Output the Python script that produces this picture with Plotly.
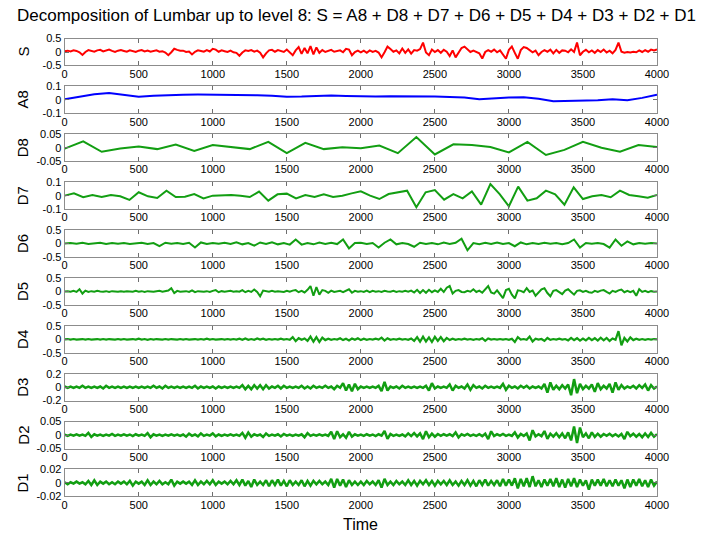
import numpy as np
import plotly.graph_objects as go

W, H = 715, 540
T_END = 4000
X_TICKS = [0, 500, 1000, 1500, 2000, 2500, 3000, 3500, 4000]

# Signal S, sampled every 20 time steps, in units of 0.01
s_cent = [
    3, 5, 2, 6, 4, -1, -11, 0, 7, 5, 1, 6, 8, 2, 5, 9, 4, 0, 5, 7,
    4, 1, 6, 3, 0, 5, 7, 2, 5, 1, 4, 6, 1, 3, -2, -12, -1, 12, 8, 5,
    5, 0, 2, -9, 1, 6, 4, 1, 7, 2, 12, 9, 1, 6, 3, 0, 5, -1, -3, -14,
    -2, 6, 4, 7, 1, 5, -3, -20, -5, 6, 8, 1, 7, 4, 0, 9, -1, -12, 6, 18,
    -7, 15, -5, 22, -9, 17, -3, 7, 0, 5, 8, 1, 4, 6, -1, 12, 9, -12, 0, 5,
    -1, 5, -3, 6, 0, 4, -2, -20, -1, 20, 11, 1, 6, -5, 13, -3, 10, -6, 7, 5,
    11, 35, -2, -12, 9, 0, 7, -3, 8, 1, -15, 6, -20, -1, 15, 20, 8, 0, 5, -1,
    -5, -24, 0, 7, 1, 9, -1, 6, -9, -25, 8, 20, -3, -25, 7, 18, 15, 6, -1, 5,
    -12, 0, 7, 1, 9, -5, 8, -3, 6, 5, -1, 10, 0, 35, -12, 1, 8, -1, 6, -3,
    7, 0, 9, -2, 5, -5, 8, 35, 1, -3, 0, -2, 1, -1, 6, 0, 7, 1, 9, 6,
    10,
]

# Approximation A8, every 100 time steps, in units of 0.001
a8_milli = [
    5, 22, 42, 52, 38, 24, 30, 37, 39, 40,
    40, 40, 38, 35, 30, 24, 25, 30, 33, 29,
    26, 25, 27, 28, 27, 25, 22, 18, 5, 12,
    18, 20, 8, -10, -8, -3, -2, 5, -2, 15,
    38,
]

# Detail D8, every 125 time steps, in units of 0.001
d8_milli = [
    -3, 24, -15, -3, 5, -5, 12, -12, 10, 2, -5, 22, -20, 18, -5, 2,
    -2, 8, -20, 40, -25, 13, 10, 3, -17, 22, -27, -8, 22, 0, -15, 10,
    3,
]

# Detail D7, every 62.5 time steps, in units of 0.001
d7_milli = [
    0, 17, -12, 5, -10, 5, -5, -32, 25, -5, -17, 37, -10, -8, 12, -20,
    0, 5, 5, 0, -10, 30, -37, 10, 15, -20, 5, -10, 10, -10, 0, 17,
    32, 0, -25, 12, 25, 37, -86, 25, 42, -30, 12, -20, 32, -67, 86, 12,
    -79, 67, -37, -20, 37, 10, -67, 62, -25, -5, 5, -12, 37, 5, -5, -15,
    5,
]

# Detail D6, every 40 time steps, in units of 0.01
d6_cent = [
    0, 2, -1, 3, -2, 1, 3, -2, 2, -1,
    2, -2, 1, 3, -2, 2, -10, 3, -1, 2,
    -2, 3, -15, 4, -2, 2, -1, 3, -2, 5,
    -3, 2, -8, 4, -2, 5, -3, 2, -4, 15,
    -4, 2, -3, 4, -2, 3, -2, 15, -18, 2,
    3, -2, 2, -15, 3, 15, -3, 2, -2, -12,
    3, -2, 2, -3, 4, -2, 3, 18, -25, 2,
    -3, 3, -2, 4, -2, 2, -10, 4, -3, 2,
    -2, 3, -1, 2, -3, 2, 15, -15, 2, -1,
    2, -2, -15, 15, -8, 8, -3, 2, -1, 2,
    0,
]

# Detail D5, every 20 time steps, in units of 0.01
d5_cent = [
    0, 1, -1, 2, -2, 8, -8, 3, -2, 1, -1, 2, 0, -1, 1, -2, 1, 0, -1, 1,
    -1, 1, 0, -1, 2, -1, 1, -2, 1, 0, -1, 1, 2, -1, 0, 3, 12, -6, 2, -1,
    0, 1, -2, 4, -3, 1, 0, -1, 1, -2, 2, 5, -3, 1, -1, 0, 2, -1, 1, -1,
    5, -3, 2, -2, 7, -2, -18, 3, 1, -1, 2, -1, 1, 0, -2, 2, -1, 3, 5, -3,
    2, -4, 6, 20, -16, 16, -12, 5, 2, -5, 3, -2, 1, 2, -3, 4, 8, -5, 2, -1,
    1, -2, 3, -3, 2, -1, 1, -2, 2, 0, -1, 2, -2, 1, -1, 2, -1, 3, -4, 6,
    -6, 5, -5, 6, -3, 4, -2, 10, -2, 14, 20, -8, 2, 5, -2, -3, 2, -1, 8, -2,
    3, -5, 8, 20, -4, -8, 4, -10, -25, 5, 10, -12, -26, 4, 2, -3, 12, -2, 3, -16,
    -4, 8, 12, -6, -18, 2, 5, -3, -10, 3, 8, -2, -12, 2, 4, -2, 2, -3, -5, 2,
    -2, 3, 5, -2, -8, 2, -2, 4, 7, -3, 2, -3, 2, -16, 8, -2, 2, -3, 1, -1,
    0,
]

# Detail D4, every 20 time steps, in units of 0.01
d4_cent = [
    0, 1, -1, 1, -1, 0, 1, -1, 1, -1, 0, 1, -1, 1, -1, 1, 0, -1, 1, -1,
    1, -1, 0, 1, -1, 2, -1, 1, -2, 1, -1, 1, 0, -1, 1, -1, 1, 0, -1, 1,
    -1, 1, -1, 0, 1, -1, 1, -1, 2, -1, 1, -1, 0, 1, -1, 1, -1, 1, -1, 2,
    -2, 3, -2, 1, -2, 3, -1, 2, -2, 1, -1, 1, -1, 2, -1, 1, -2, 8, -7, 4,
    -2, 3, -6, 10, -9, 8, -10, 6, -3, 2, -2, 1, -1, 4, -3, 2, -4, 3, -2, 4,
    -3, 2, -2, 1, -1, 2, -1, 6, -5, 4, -2, 1, -1, 2, -1, 1, -2, 3, -6, 8,
    -9, 10, -8, 7, -10, 9, -6, 8, -7, 5, -3, 2, -2, 1, -1, 2, -1, 1, -2, 1,
    -1, 4, -6, 3, -1, 1, -1, 1, -1, 1, -2, 2, -10, 8, -1, 1, -2, 10, -8, 2,
    -1, 1, -6, 5, -2, 1, -1, 2, -1, 1, -4, 5, -3, 4, -5, 3, -4, 5, -3, 4,
    -5, 6, -4, 5, -6, 3, -2, 30, -22, 5, -8, 7, -3, 2, -2, 1, -2, 1, -1, 1,
    0,
]

# Detail D3, every 20 time steps, in units of 0.01
d3_cent = [
    1, -1, 1, -1, 1, -1, 2, -1, 1, -1, 1, -1, 1, -2, 2, -1, 1, -1, 1, -1,
    1, -1, 1, -1, 1, -1, 1, -1, 1, -1, 2, -1, 1, -2, 2, -1, 1, -1, 1, -1,
    1, -1, 1, -1, 2, -2, 1, -1, 1, -1, 1, -2, 1, -1, 1, -1, 1, -1, 1, -1,
    3, -3, 2, -3, 3, -2, 3, -3, 3, -2, 1, -1, 2, -2, 2, -1, 1, -1, 1, -1,
    2, -2, 1, -2, 2, -1, 1, -1, 2, -1, 1, -3, 2, -1, 6, -5, 4, -6, 5, -3,
    1, -1, 1, -1, 1, -1, 2, -6, 8, -5, 1, -1, 1, -2, 2, -1, 1, -1, 1, -1,
    1, -1, 2, -5, 6, -2, 1, -1, 1, -1, 4, -5, 2, -1, 1, -2, 4, -4, 3, -1,
    1, -2, 2, -1, 1, -1, 1, -1, 5, -4, 2, -1, 1, -2, 2, -1, 2, -2, 1, -1,
    1, -2, 5, -8, 7, -4, 2, -3, 3, -2, 4, -12, 12, -9, 5, -3, 2, -2, 4, -7,
    6, -3, 2, -2, 5, -8, 7, -4, 3, -2, 1, -1, 2, -2, 3, -1, 4, -5, 3, -2,
    1,
]

# Detail D2, every 20 time steps, in units of 0.001
d2_milli = [
    2, -3, 2, -2, 3, -2, 2, -3, 8, -7, 3, -2, 2, -3, 2, -2, 4, -3, 2, -2,
    3, -2, 2, -4, 3, -2, 2, -3, 7, -8, 3, -2, 2, -3, 2, -2, 3, -2, 2, -3,
    2, -6, 5, -3, 2, -5, 6, -3, 2, -2, 6, -5, 2, -3, 2, -2, 3, -2, 2, -3,
    8, -10, 9, -6, 3, -2, 2, -7, 6, -3, 2, -2, 3, -5, 4, -2, 2, -3, 2, -2,
    3, -8, 7, -3, 2, -2, 3, -2, 2, -3, 12, -15, 14, -8, 3, -10, 12, -6, 3, -2,
    2, -3, 3, -2, 2, -4, 3, -2, 15, -14, 4, -3, 2, -3, 2, -5, 6, -4, 7, -5,
    6, -15, 14, -8, 5, -6, 4, -3, 3, -2, 3, -4, 10, -9, 3, -2, 4, -3, 2, -3,
    3, -4, 5, -15, 14, -4, 3, -2, 4, -3, 2, -3, 10, -9, 4, -3, 6, -20, 18, -5,
    3, -4, 15, -14, 5, -6, 7, -8, 6, -12, 10, -20, 32, -30, 28, -8, 6, -12, 10, -7,
    5, -6, 4, -3, 5, -4, 3, -5, 4, -15, 12, -4, 5, -6, 4, -8, 6, -7, 8, -6,
    3,
]

# Detail D1, every 20 time steps, in units of 0.001
d1_milli = [
    1, -2, 1, -1, 2, -1, 1, -2, 3, -3, 4, -3, 2, -1, 2, -2, 1, -2, 2, -1,
    2, -2, 3, -4, 2, -1, 2, -3, 4, -3, 2, -2, 3, -2, 1, -2, 5, -4, 2, -1,
    2, -1, 2, -3, 4, -3, 2, -2, 3, -2, 4, -3, 2, -1, 2, -2, 3, -2, 4, -3,
    5, -4, 3, -6, 5, -3, 2, -3, 4, -5, 4, -3, 5, -4, 3, -5, 4, -3, 2, -3,
    4, -5, 3, -4, 3, -2, 3, -2, 2, -3, 6, -7, 6, -4, 5, -6, 4, -3, 2, -3,
    2, -3, 3, -2, 2, -3, 4, -7, 6, -3, 2, -3, 3, -2, 2, -3, 4, -3, 3, -4,
    3, -2, 4, -3, 3, -4, 3, -2, 3, -3, 4, -3, 2, -4, 3, -3, 4, -4, 3, -5,
    4, -3, 5, -4, 3, -3, 4, -5, 6, -4, 5, -4, 7, -8, 6, -5, 7, -6, 10, -5,
    4, -6, 5, -4, 6, -5, 7, -6, 5, -7, 6, -5, 7, -6, 5, -4, 4, -10, 5, -4,
    5, -4, 6, -5, 4, -5, 5, -4, 4, -8, 5, -6, 5, -4, 6, -5, 4, -6, 5, -4,
    2,
]

# Panel label, values, scale, axis half-range, y tick labels
panels = [
    ("S", s_cent, 0.01, 0.5, ["0.5", "0", "-0.5"]),
    ("A8", a8_milli, 0.001, 0.1, ["0.1", "0", "-0.1"]),
    ("D8", d8_milli, 0.001, 0.05, ["0.05", "0", "-0.05"]),
    ("D7", d7_milli, 0.001, 0.1, ["0.1", "0", "-0.1"]),
    ("D6", d6_cent, 0.01, 0.5, ["0.5", "0", "-0.5"]),
    ("D5", d5_cent, 0.01, 0.5, ["0.5", "0", "-0.5"]),
    ("D4", d4_cent, 0.01, 0.5, ["0.5", "0", "-0.5"]),
    ("D3", d3_cent, 0.01, 0.2, ["0.2", "0", "-0.2"]),
    ("D2", d2_milli, 0.001, 0.05, ["0.05", "0", "-0.05"]),
    ("D1", d1_milli, 0.001, 0.02, ["0.02", "0", "-0.02"]),
]

RED = "rgb(255,0,0)"
BLUE = "rgb(0,0,255)"
GREEN = "rgb(18,158,18)"
FONT = "Liberation Sans, Arial, sans-serif"

# Pixel geometry of the stacked panels
LEFT_PX, RIGHT_PX = 63, 668
TOP0_PX, STEP_PX, PANEL_PX = 33.3, 48.97, 27.5

fig = go.Figure()
annotations = []
for i, (label, vals, scale, half, ytext) in enumerate(panels):
    suffix = "" if i == 0 else str(i + 1)
    y = np.array(vals, dtype=float) * scale
    t = np.linspace(0, T_END, len(y))
    color = RED if label == "S" else BLUE if label == "A8" else GREEN
    width = 2.0 if i < 6 else (2.2 if i == 6 else 2.5)
    fig.add_trace(go.Scatter(
        x=t, y=y, mode="lines",
        line=dict(color=color, width=width),
        xaxis="x" + suffix, yaxis="y" + suffix,
        showlegend=False, hoverinfo="skip",
    ))
    top = TOP0_PX + i * STEP_PX
    bottom = top + PANEL_PX
    ydom = [1 - bottom / H, 1 - top / H]
    axis_common = dict(
        showline=True, linecolor="#8c8c8c", linewidth=1, mirror="ticks",
        ticks="inside", ticklen=4, tickcolor="#6e6e6e", tickwidth=1,
        showgrid=False, zeroline=False,
        tickfont=dict(family=FONT, size=11, color="black"),
    )
    fig.layout["xaxis" + suffix] = dict(
        domain=[LEFT_PX / W, RIGHT_PX / W], anchor="y" + suffix,
        range=[0, T_END], tickvals=X_TICKS,
        ticktext=[str(v) for v in X_TICKS], ticklabelstandoff=-2,
        **axis_common,
    )
    fig.layout["yaxis" + suffix] = dict(
        domain=ydom, anchor="x" + suffix,
        range=[-half, half], tickvals=[half, 0, -half], ticktext=ytext,
        **axis_common,
    )
    annotations.append(dict(
        text=label, x=20 / W, y=1 - (top + PANEL_PX / 2) / H,
        xref="paper", yref="paper", showarrow=False, textangle=-90,
        font=dict(family=FONT, size=15, color="black"),
        xanchor="center", yanchor="middle",
    ))

annotations.append(dict(
    text="Decomposition of Lumbar up to level 8: S = A8 + D8 + D7 + D6 + D5 + D4 + D3 + D2 + D1",
    x=361 / W, y=1 - 10 / H, xref="paper", yref="paper", showarrow=False,
    font=dict(family=FONT, size=17, color="black"),
    xanchor="center", yanchor="middle",
))
annotations.append(dict(
    text="Time", x=365 / W, y=1 - 530 / H, xref="paper", yref="paper",
    showarrow=False, font=dict(family=FONT, size=16, color="black"),
    xanchor="center", yanchor="middle",
))

fig.update_layout(
    width=W, height=H,
    margin=dict(l=0, r=0, t=0, b=0),
    paper_bgcolor="white", plot_bgcolor="white",
    annotations=annotations,
)

fig.write_html("out.html")
